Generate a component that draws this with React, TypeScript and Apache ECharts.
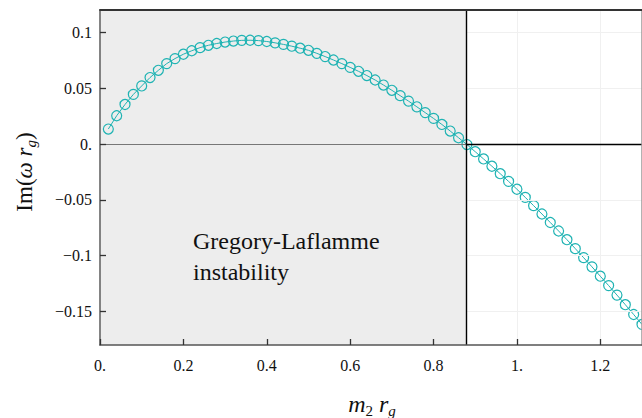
import React, { useEffect, useRef } from "react";
import * as echarts from "echarts";

// Graviton mass m2*rg and imaginary part of the quasi-normal frequency
const massValues = [
  0.02, 0.04, 0.06, 0.08, 0.1, 0.12, 0.14, 0.16, 0.18, 0.2,
  0.22, 0.24, 0.26, 0.28, 0.3, 0.32, 0.34, 0.36, 0.38, 0.4,
  0.42, 0.44, 0.46, 0.48, 0.5, 0.52, 0.54, 0.56, 0.58, 0.6,
  0.62, 0.64, 0.66, 0.68, 0.7, 0.72, 0.74, 0.76, 0.78, 0.8,
  0.82, 0.84, 0.86, 0.88, 0.9, 0.92, 0.94, 0.96, 0.98, 1.0,
  1.02, 1.04, 1.06, 1.08, 1.1, 1.12, 1.14, 1.16, 1.18, 1.2,
  1.22, 1.24, 1.26, 1.28, 1.3,
];
const imOmega = [
  0.0134, 0.0253, 0.0354, 0.0444, 0.052, 0.0595, 0.066, 0.072, 0.0765, 0.0804,
  0.0835, 0.0863, 0.0884, 0.09, 0.0913, 0.0922, 0.0928, 0.0929, 0.0926, 0.0918,
  0.0906, 0.0892, 0.0876, 0.0858, 0.0839, 0.0812, 0.0783, 0.0752, 0.072, 0.0686,
  0.0651, 0.0613, 0.0573, 0.0528, 0.0481, 0.0433, 0.0384, 0.0333, 0.0281, 0.0229,
  0.0175, 0.0116, 0.0056, -0.0005, -0.0069, -0.0134, -0.0199, -0.0266, -0.0335, -0.0405,
  -0.0478, -0.0552, -0.0627, -0.0703, -0.0779, -0.0857, -0.0937, -0.1018, -0.11, -0.1184,
  -0.1268, -0.1353, -0.1439, -0.1527, -0.1616,
];

const xTicks = [0, 0.2, 0.4, 0.6, 0.8, 1.0, 1.2];
const xTickLabels = ["0.", "0.2", "0.4", "0.6", "0.8", "1.", "1.2"];
const yTicks = [-0.15, -0.1, -0.05, 0, 0.05, 0.1];
const yTickLabels = ["\u22120.15", "\u22120.1", "\u22120.05", "0.", "0.05", "0.1"];

const xRange = [0, 1.3];
const yRange = [-0.18, 0.12];
// Onset of the Gregory-Laflamme instability (Im omega changes sign)
const glBoundary = 0.878;

const SERIF = "Liberation Serif";
const TEAL = "#1fb3b3";

function labelFor(ticks: number[], labels: string[]) {
  return (v: number) => {
    const i = ticks.findIndex((t) => Math.abs(t - v) < 1e-6);
    return i >= 0 ? labels[i] : "";
  };
}

export default function App() {
  const ref = useRef<HTMLDivElement>(null);

  useEffect(() => {
    document.body.style.margin = "0";
    const chart = echarts.init(ref.current!, null, { renderer: "svg" });

    const plainAxis = {
      type: "value" as const,
      axisTick: { show: false },
      axisLabel: { show: false },
      splitLine: { show: false },
    };

    const option: any = {
      animation: false,
      backgroundColor: "#ffffff",
      textStyle: { fontFamily: SERIF },
      grid: { left: 100, right: 0, top: 10, bottom: 73, containLabel: false },
      xAxis: [
        {
          ...plainAxis,
          min: xRange[0],
          max: xRange[1],
          interval: 0.2,
          position: "bottom",
          z: 0,
          axisLine: { show: false },
          splitLine: { show: true, lineStyle: { color: "#f0f0f0", width: 1 } },
        },
        {
          type: "value",
          min: xRange[0],
          max: xRange[1],
          position: "bottom",
          z: 10,
          axisLine: { show: true, onZero: false, lineStyle: { color: "#555", width: 1.6 } },
          axisTick: {
            show: true,
            inside: true,
            length: 6,
            customValues: xTicks,
            lineStyle: { color: "#333", width: 1.3 },
          },
          axisLabel: {
            customValues: xTicks,
            formatter: labelFor(xTicks, xTickLabels),
            margin: 12,
            fontFamily: SERIF,
            fontSize: 16,
            color: "#111",
          },
          splitLine: { show: false },
        },
        {
          ...plainAxis,
          min: xRange[0],
          max: xRange[1],
          position: "top",
          z: 10,
          axisLine: { show: true, onZero: false, lineStyle: { color: "#333", width: 1.8 } },
        },
      ],
      yAxis: [
        {
          type: "value",
          min: yRange[0],
          max: yRange[1],
          position: "left",
          z: 10,
          axisLine: { show: true, onZero: false, lineStyle: { color: "#666", width: 1.6 } },
          axisTick: {
            show: true,
            inside: true,
            length: 6,
            customValues: yTicks,
            lineStyle: { color: "#333", width: 1.3 },
          },
          axisLabel: {
            customValues: yTicks,
            formatter: labelFor(yTicks, yTickLabels),
            margin: 8,
            fontFamily: SERIF,
            fontSize: 16,
            color: "#111",
          },
          splitLine: { show: false },
        },
        {
          ...plainAxis,
          min: yRange[0],
          max: yRange[1],
          position: "right",
          z: 10,
          axisLine: { show: true, onZero: false, lineStyle: { color: "#999", width: 1.5 } },
        },
      ],
      series: [
        {
          // shaded instability region, grid lines and reference lines
          type: "line",
          xAxisIndex: 0,
          yAxisIndex: 0,
          z: 1,
          data: [[0, 0]],
          showSymbol: false,
          lineStyle: { width: 0 },
          silent: true,
          markArea: {
            silent: true,
            itemStyle: { color: "#ededed" },
            data: [[{ coord: [xRange[0], yRange[0]] }, { coord: [glBoundary, yRange[1]] }]],
          },
          markLine: {
            silent: true,
            symbol: ["none", "none"],
            label: { show: false },
            data: [
              ...yTicks
                .filter((v) => v !== 0)
                .map((v) => [
                  { coord: [glBoundary, v], lineStyle: { color: "#f0f0f0", width: 1, type: "solid" } },
                  { coord: [xRange[1], v] },
                ]),
              [
                { coord: [xRange[0], 0], lineStyle: { color: "#777", width: 1, type: "solid" } },
                { coord: [glBoundary, 0] },
              ],
              [
                { coord: [glBoundary, 0], lineStyle: { color: "#000", width: 1.4, type: "solid" } },
                { coord: [xRange[1], 0] },
              ],
              [
                { coord: [glBoundary, yRange[0]], lineStyle: { color: "#000", width: 1.4, type: "solid" } },
                { coord: [glBoundary, yRange[1]] },
              ],
            ],
          },
        },
        {
          type: "line",
          xAxisIndex: 0,
          yAxisIndex: 0,
          z: 3,
          data: massValues.map((m, i) => [m, imOmega[i]]),
          symbol: "circle",
          symbolSize: 10,
          showAllSymbol: true,
          clip: false,
          lineStyle: { color: TEAL, width: 1 },
          itemStyle: { color: "rgba(0,0,0,0)", borderColor: TEAL, borderWidth: 1.2 },
        },
      ],
      graphic: [
        {
          type: "text",
          x: 193,
          y: 225,
          z: 20,
          style: {
            text: "Gregory-Laflamme\ninstability",
            fontFamily: SERIF,
            fontSize: 24,
            lineHeight: 31,
            fill: "#111",
          },
        },
        {
          type: "text",
          x: 372,
          y: 404,
          z: 20,
          style: {
            text: "{i|m}{s|2}{i| r}{si|g}",
            align: "center",
            verticalAlign: "middle",
            fill: "#111",
            rich: {
              i: { fontFamily: SERIF, fontStyle: "italic", fontSize: 24, lineHeight: 28 },
              s: { fontFamily: SERIF, fontStyle: "normal", fontSize: 15, lineHeight: 15, verticalAlign: "bottom" },
              si: { fontFamily: SERIF, fontStyle: "italic", fontSize: 15, lineHeight: 15, verticalAlign: "bottom" },
            },
          },
        },
        {
          type: "text",
          x: 24,
          y: 172,
          rotation: Math.PI / 2,
          z: 20,
          style: {
            text: "{n|Im(}{i|\u03c9 r}{s|g}{n|)}",
            align: "center",
            verticalAlign: "middle",
            fill: "#111",
            rich: {
              n: { fontFamily: SERIF, fontStyle: "normal", fontSize: 23, lineHeight: 28 },
              i: { fontFamily: SERIF, fontStyle: "italic", fontSize: 23, lineHeight: 28 },
              s: { fontFamily: SERIF, fontStyle: "italic", fontSize: 15, lineHeight: 15, verticalAlign: "bottom" },
            },
          },
        },
      ],
    };

    chart.setOption(option);
    return () => chart.dispose();
  }, []);

  return <div ref={ref} style={{ width: 642, height: 418 }} />;
}
